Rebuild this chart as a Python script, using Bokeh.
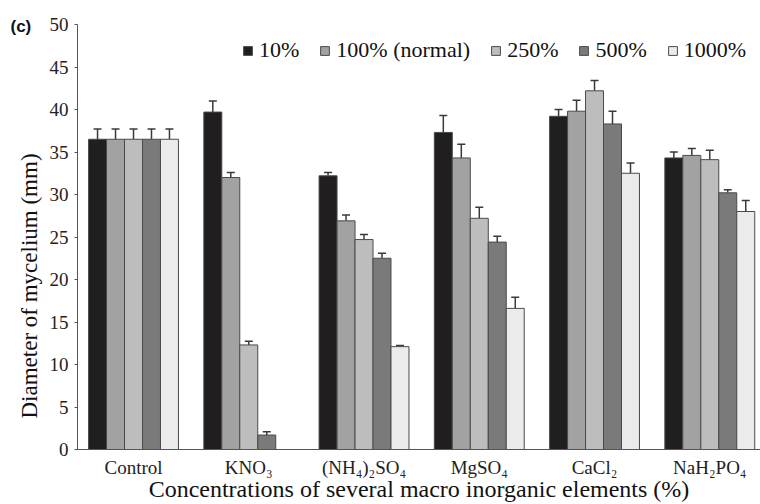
from bokeh.plotting import figure
from bokeh.models import (ColumnDataSource, Range1d, FixedTicker, Legend, LegendItem,
                          Whisker, TeeHead, Title)
from bokeh.transform import dodge
from bokeh.embed import file_html
from bokeh.resources import INLINE

nan = float("nan")

# Salts tested (category axis)
categories = ["Control", "KNO\u2083", "(NH\u2084)\u2082SO\u2084", "MgSO\u2084",
              "CaCl\u2082", "NaH\u2082PO\u2084"]

# Concentration levels (legend entries)
levels = ["10%", "100% (normal)", "250%", "500%", "1000%"]

# Mean mycelium diameter (mm) per salt, one list per concentration
d_10 = [36.5, 39.7, 32.2, 37.3, 39.2, 34.3]
d_100 = [36.5, 32.0, 26.9, 34.3, 39.8, 34.6]
d_250 = [36.5, 12.3, 24.7, 27.2, 42.2, 34.1]
d_500 = [36.5, 1.7, 22.5, 24.4, 38.3, 30.2]
d_1000 = [36.5, nan, 12.1, 16.6, 32.5, 28.0]

# Standard errors (upper bars only)
e_10 = [1.2, 1.3, 0.4, 2.0, 0.8, 0.7]
e_100 = [1.2, 0.6, 0.7, 1.6, 1.3, 0.8]
e_250 = [1.2, 0.45, 0.6, 1.3, 1.2, 1.1]
e_500 = [1.2, 0.4, 0.6, 0.7, 1.5, 0.35]
e_1000 = [1.2, nan, 0.15, 1.3, 1.2, 1.3]

y_ticks = [0, 5, 10, 15, 20, 25, 30, 35, 40, 45, 50]

means = [d_10, d_100, d_250, d_500, d_1000]
errs = [e_10, e_100, e_250, e_500, e_1000]
fills = ["#211e1f", "#a2a2a2", "#bdbdbd", "#7a7a7a", "#ebebeb"]

SERIF = "Liberation Serif"
BAR_W = 0.156

p = figure(width=760, height=504, output_backend="svg", toolbar_location=None,
           x_range=Range1d(-0.486, 5.44), y_range=Range1d(0, 50),
           min_border_left=77, min_border_right=0, min_border_top=24,
           min_border_bottom=55)
p.outline_line_color = None
p.xgrid.grid_line_color = None
p.ygrid.grid_line_color = None
p.background_fill_color = "white"
p.border_fill_color = "white"

idx = list(range(len(categories)))
items = []
for k, (lvl, m, e, c) in enumerate(zip(levels, means, errs, fills)):
    src = ColumnDataSource(dict(x=idx, top=m,
                                upper=[a + b for a, b in zip(m, e)]))
    off = (k - 2) * BAR_W
    r = p.vbar(x=dodge("x", off), top="top", bottom=0, width=BAR_W, source=src,
               fill_color=c, line_color="#4a4a4a", line_width=1)
    w = Whisker(base=dodge("x", off), lower="top", upper="upper", source=src,
                dimension="height", line_color="#3a3a3a", line_width=1.5,
                upper_head=TeeHead(size=8, line_color="#3a3a3a", line_width=1.5),
                lower_head=None)
    p.add_layout(w)
    items.append(LegendItem(label=lvl, renderers=[r]))

legend = Legend(items=items, orientation="horizontal", location=(165, 386),
                border_line_color=None, background_fill_alpha=0,
                label_text_font=SERIF, label_text_font_size="22px",
                label_text_color="#111111", glyph_width=11, glyph_height=11,
                label_standoff=6, spacing=20, padding=0, margin=0)
p.add_layout(legend, "center")

# y axis
ya = p.yaxis[0]
ya.ticker = FixedTicker(ticks=y_ticks)
ya.minor_tick_line_color = None
ya.major_tick_in = 0
ya.major_tick_out = 3
ya.major_label_standoff = 6
ya.axis_line_color = "#555555"
ya.major_tick_line_color = "#555555"
ya.major_label_text_font = SERIF
ya.major_label_text_font_size = "19px"
ya.major_label_text_color = "#222222"

# x axis
xa = p.xaxis[0]
xa.ticker = FixedTicker(ticks=idx)
xa.major_label_overrides = {i: c for i, c in zip(idx, categories)}
xa.minor_tick_line_color = None
xa.major_tick_in = 0
xa.major_tick_out = 0
xa.major_label_standoff = 7
xa.axis_line_color = "#555555"
xa.major_label_text_font = SERIF
xa.major_label_text_font_size = "19px"
xa.major_label_text_color = "#222222"
xa.axis_label = "Concentrations of several macro inorganic elements (%)"
xa.axis_label_text_font = SERIF
xa.axis_label_text_font_size = "24px"
xa.axis_label_text_font_style = "normal"
xa.axis_label_text_color = "#111111"
xa.axis_label_standoff = -5

# y axis title, starting near the bottom of the axis
p.add_layout(Title(text="Diameter of mycelium (mm)", align="left", offset=31,
                   text_font=SERIF, text_font_size="23px", text_font_style="normal",
                   text_color="#111111", standoff=10), "left")

# panel tag at the top-left corner
p.add_layout(Title(text="(c)", align="left", offset=-67, vertical_align="bottom",
                   text_font="Liberation Sans", text_font_size="17px",
                   text_font_style="bold", text_color="#111111", standoff=-22),
             "above")

open("out.html", "w").write(file_html(p, INLINE))
